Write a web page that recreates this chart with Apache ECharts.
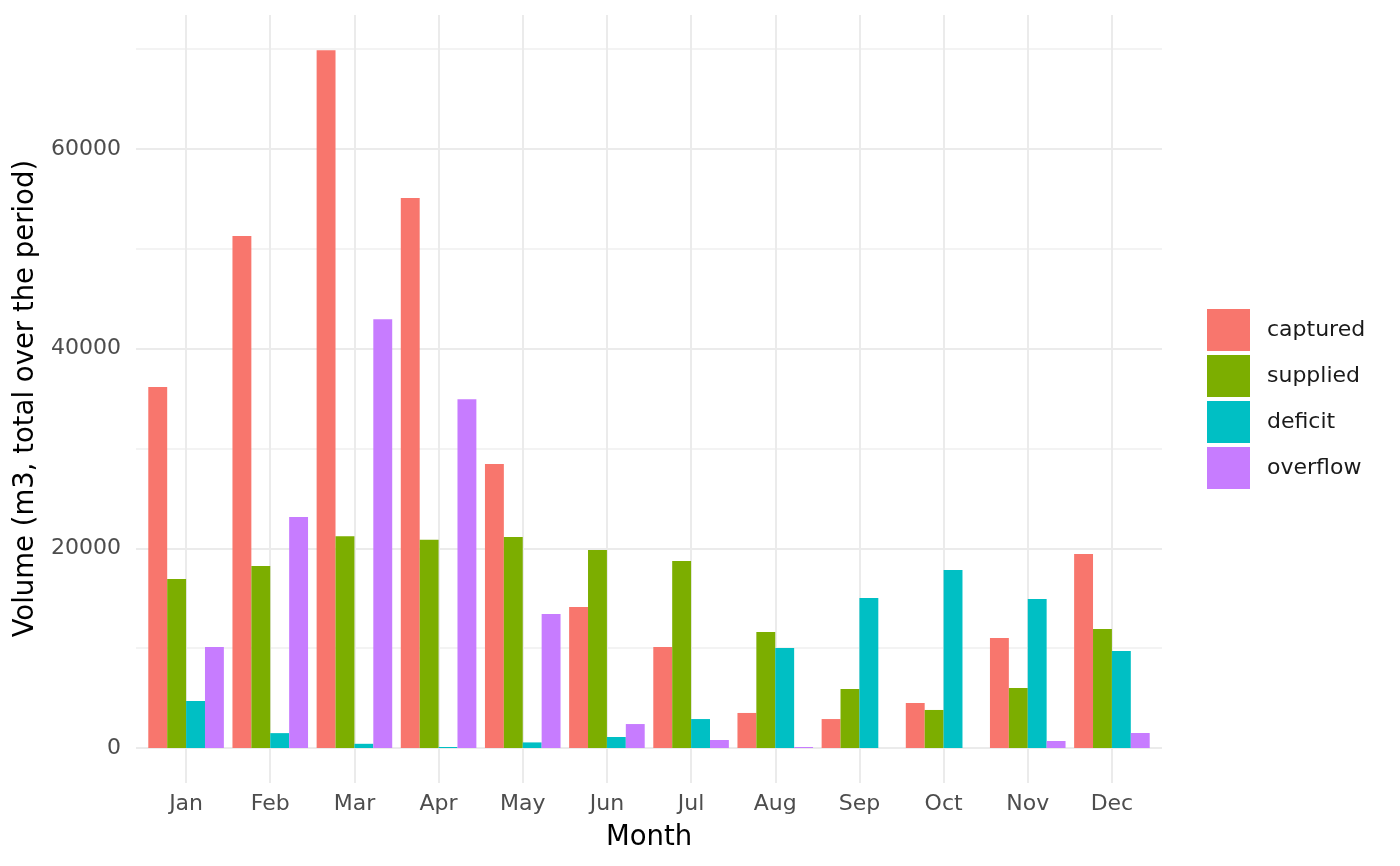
<!DOCTYPE html>
<html>
<head>
<meta charset="utf-8">
<script src="https://cdn.jsdelivr.net/npm/echarts@6/dist/echarts.min.js"></script>
<style>
html,body{margin:0;padding:0;background:#fff;}
#main{width:1400px;height:866px;}
</style>
</head>
<body>
<div id="main"></div>
<script>
// months and series values (m3, total over the period)
var months = ['Jan','Feb','Mar','Apr','May','Jun','Jul','Aug','Sep','Oct','Nov','Dec'];
var captured = [36150, 51300, 69900, 55100, 28450, 14120, 10120, 3510, 2900, 4510, 11020, 19430];
var supplied = [16930, 18240, 21220, 20850, 21130, 19830, 18730, 11620, 5910, 3810, 6010, 11920];
var deficit  = [4710, 1490, 420, 100, 560, 1100, 2900, 10020, 15030, 17830, 14920, 9720];
var overflow = [10120, 23130, 42960, 34930, 13430, 2400, 800, 100, 0, 0, 700, 1500];
var seriesNames = ['captured','supplied','deficit','overflow'];
var colors = ['#F8766D','#7CAE00','#00BFC4','#C77CFF'];
var yTicks = [0, 20000, 40000, 60000];

var font = 'DejaVu Sans';
var myChart = echarts.init(document.getElementById('main'));

function bar(name, data) {
    return {
        name: name,
        type: 'bar',
        xAxisIndex: 0,
        yAxisIndex: 0,
        data: data,
        barWidth: '22.45%',
        barGap: '0%',
        silent: true
    };
}

option = {
    backgroundColor: '#fff',
    animation: false,
    color: colors,
    textStyle: { fontFamily: font },
    grid: [
        // bars
        { left: 144, right: 246, top: 49.2, bottom: 118 },
        // horizontal grid lines over the full panel width
        { left: 136, right: 238, top: 49.2, bottom: 118 },
        // vertical grid lines at the month centres
        { left: 186, right: 288, top: 15, bottom: 83 }
    ],
    legend: {
        orient: 'vertical',
        left: 1202,
        top: 304,
        itemWidth: 43,
        itemHeight: 42,
        itemGap: 4,
        icon: 'rect',
        data: seriesNames,
        textStyle: { fontFamily: font, fontSize: 22, color: '#1a1a1a', padding: [0, 0, 0, 12] },
        selectedMode: false
    },
    xAxis: [
        {
            gridIndex: 0,
            type: 'category',
            data: months,
            axisLine: { show: false },
            axisTick: { show: false },
            splitLine: { show: false },
            axisLabel: { fontFamily: font, fontSize: 22, color: '#4D4D4D', margin: 45 },
            name: 'Month',
            nameLocation: 'middle',
            nameGap: 76,
            nameTextStyle: { fontFamily: font, fontSize: 27.5, color: '#000' }
        },
        {
            gridIndex: 1,
            type: 'value',
            min: 0, max: 1,
            show: false
        },
        {
            gridIndex: 2,
            type: 'category',
            data: months,
            boundaryGap: false,
            axisLine: { show: false },
            axisTick: { show: false },
            axisLabel: { show: false },
            splitLine: { show: true, lineStyle: { color: '#EBEBEB', width: 2 } }
        }
    ],
    yAxis: [
        {
            gridIndex: 0,
            type: 'value',
            min: 0, max: 70000,
            show: false
        },
        {
            gridIndex: 1,
            type: 'value',
            min: 0, max: 70000, interval: 10000,
            axisLine: { show: false },
            axisTick: { show: false },
            splitLine: { show: true, lineStyle: { color: ['#EBEBEB', '#F3F3F3'], width: 2 } },
            axisLabel: {
                fontFamily: font, fontSize: 22, color: '#4D4D4D', margin: 15,
                formatter: function (v) { return yTicks.indexOf(v) >= 0 ? String(v) : ''; }
            },
            name: 'Volume (m3, total over the period)',
            nameLocation: 'middle',
            nameGap: 93,
            nameRotate: 90,
            nameTextStyle: { fontFamily: font, fontSize: 27.5, color: '#000' }
        },
        {
            gridIndex: 2,
            type: 'value',
            min: 0, max: 1,
            show: false
        }
    ],
    series: [
        bar(seriesNames[0], captured),
        bar(seriesNames[1], supplied),
        bar(seriesNames[2], deficit),
        bar(seriesNames[3], overflow)
    ]
};
myChart.setOption(option);
</script>
</body>
</html>
